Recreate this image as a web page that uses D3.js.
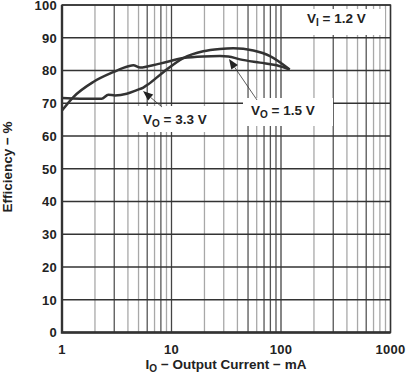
<!DOCTYPE html>
<html>
<head>
<meta charset="utf-8">
<script src="https://cdn.jsdelivr.net/npm/d3@7"></script>
<style>
  body { margin: 0; background: #fff; }
  text { font-family: "Liberation Sans", Arial, sans-serif; font-weight: bold; fill: #222; }
</style>
</head>
<body>
<div id="chart"></div>
<script>
// data: output current (mA) vs efficiency (%)
const vo15 = [[1, 67.8], [1.27, 71.9], [1.93, 76.5], [2.94, 79.5], [4.03, 81.3], [4.48, 81.6], [5.16, 80.9],
  [6.14, 81.3], [7.85, 82.1], [12.8, 83.8], [19.5, 84.3], [27.7, 84.4], [33, 84.3], [42.2, 83.4],
  [64.3, 82.4], [91.4, 81.6], [120, 80.3]];
const vo33 = [[1, 71.6], [1.46, 71.4], [2.3, 71.4], [2.65, 72.6], [3.05, 72.4], [3.9, 72.9], [4.81, 74.0],
  [5.53, 74.8], [6.14, 75.8], [8.42, 79.5], [12.8, 83.8], [19.5, 85.9], [27.7, 86.6], [36.7, 86.8],
  [55.9, 86.1], [79.4, 84.4], [120, 80.3]];
const yTicks = [0, 10, 20, 30, 40, 50, 60, 70, 80, 90, 100];
const xTicks = [1, 10, 100, 1000];

const width = 406, height = 374;

const x = d3.scaleLog().domain([1, 1000]).range([62, 390.5]);
const y = d3.scaleLinear().domain([0, 100]).range([332.5, 5]);

const svg = d3.select("#chart").append("svg")
  .attr("width", width)
  .attr("height", height);

// minor grid lines 2..9 of every decade
const minor = [];
for (let d = 1; d < 1000; d *= 10) {
  for (let k = 2; k <= 9; k++) minor.push(d * k);
}
// some of the minor lines print darker in the original
const darker = new Set([3, 6, 8, 50, 70, 80, 90, 300, 600]);

svg.append("g")
  .selectAll("line")
  .data(minor)
  .join("line")
  .attr("x1", d => x(d)).attr("x2", d => x(d))
  .attr("y1", y(0)).attr("y2", y(100))
  .attr("stroke", d => darker.has(d) ? "#555" : "#a8a8a8")
  .attr("stroke-width", 1.3);

svg.append("g")
  .selectAll("line")
  .data(xTicks)
  .join("line")
  .attr("x1", d => x(d)).attr("x2", d => x(d))
  .attr("y1", y(0)).attr("y2", y(100))
  .attr("stroke", "#444")
  .attr("stroke-width", 1.3);

svg.append("g")
  .selectAll("line")
  .data(yTicks)
  .join("line")
  .attr("x1", x(1)).attr("x2", x(1000))
  .attr("y1", d => y(d)).attr("y2", d => y(d))
  .attr("stroke", "#333")
  .attr("stroke-width", 1.3);

// white boxes behind the labels hide the grid
const boxes = [[130, 106, 92, 26], [243, 98, 90, 28], [297, 9, 88, 26]];
svg.append("g")
  .selectAll("rect")
  .data(boxes)
  .join("rect")
  .attr("x", d => d[0]).attr("y", d => d[1])
  .attr("width", d => d[2]).attr("height", d => d[3])
  .attr("fill", "#fff");

// frame
svg.append("rect")
  .attr("x", x(1)).attr("y", y(100))
  .attr("width", x(1000) - x(1)).attr("height", y(0) - y(100))
  .attr("fill", "none").attr("stroke", "#333").attr("stroke-width", 1.4);
svg.append("path")
  .attr("d", `M${x(1)},${y(100)}V${y(0)}H${x(1000)}`)
  .attr("fill", "none").attr("stroke", "#333").attr("stroke-width", 2.4);

// curves
const line = d3.line()
  .x(d => x(d[0]))
  .y(d => y(d[1]))
  .curve(d3.curveMonotoneX);

svg.append("g")
  .selectAll("path")
  .data([vo15, vo33])
  .join("path")
  .attr("d", line)
  .attr("fill", "none")
  .attr("stroke", "#333")
  .attr("stroke-width", 2.5)
  .attr("stroke-linejoin", "round");

// tick labels
svg.append("g")
  .selectAll("text")
  .data(yTicks)
  .join("text")
  .attr("x", 57)
  .attr("y", d => y(d) + 4.8)
  .attr("text-anchor", "end")
  .attr("font-size", 13)
  .attr("letter-spacing", 0.3)
  .text(d => d);

svg.append("g")
  .selectAll("text")
  .data(xTicks)
  .join("text")
  .attr("x", d => x(d))
  .attr("y", 354)
  .attr("text-anchor", "middle")
  .attr("font-size", 13)
  .attr("letter-spacing", 0.3)
  .text(d => d);

// axis titles
const xt = svg.append("text")
  .attr("x", 226).attr("y", 369)
  .attr("text-anchor", "middle")
  .attr("font-size", 13.5);
xt.append("tspan").text("I");
xt.append("tspan").attr("font-size", 10).attr("dy", 3).text("O");
xt.append("tspan").attr("dy", -3).text(" \u2212 Output Current \u2212 mA");

svg.append("text")
  .attr("transform", `translate(12,167) rotate(-90)`)
  .attr("text-anchor", "middle")
  .attr("font-size", 13.5)
  .text("Efficiency \u2212 %");

// annotations
function label(px, py, sub, rest) {
  const t = svg.append("text")
    .attr("x", px).attr("y", py)
    .attr("font-size", 13.5);
  t.append("tspan").text("V");
  t.append("tspan").attr("font-size", 10).attr("dy", 3).text(sub);
  t.append("tspan").attr("dy", -3).text(rest);
}
label(143, 124, "O", " = 3.3 V");
label(251, 115, "O", " = 1.5 V");
label(307, 23, "I", " = 1.2 V");

function arrow(x0, y0, x1, y1) {
  const a = Math.atan2(y1 - y0, x1 - x0);
  const len = 10, w = 4;
  const bx = x1 - len * Math.cos(a), by = y1 - len * Math.sin(a);
  svg.append("line")
    .attr("x1", x0).attr("y1", y0).attr("x2", bx).attr("y2", by)
    .attr("stroke", "#333").attr("stroke-width", 0.8);
  svg.append("path")
    .attr("d", `M${x1},${y1}L${bx + w * Math.sin(a)},${by - w * Math.cos(a)}L${bx - w * Math.sin(a)},${by + w * Math.cos(a)}Z`)
    .attr("fill", "#222");
}
arrow(162, 107, 143, 91);
arrow(257, 100, 229, 59);
</script>
</body>
</html>
